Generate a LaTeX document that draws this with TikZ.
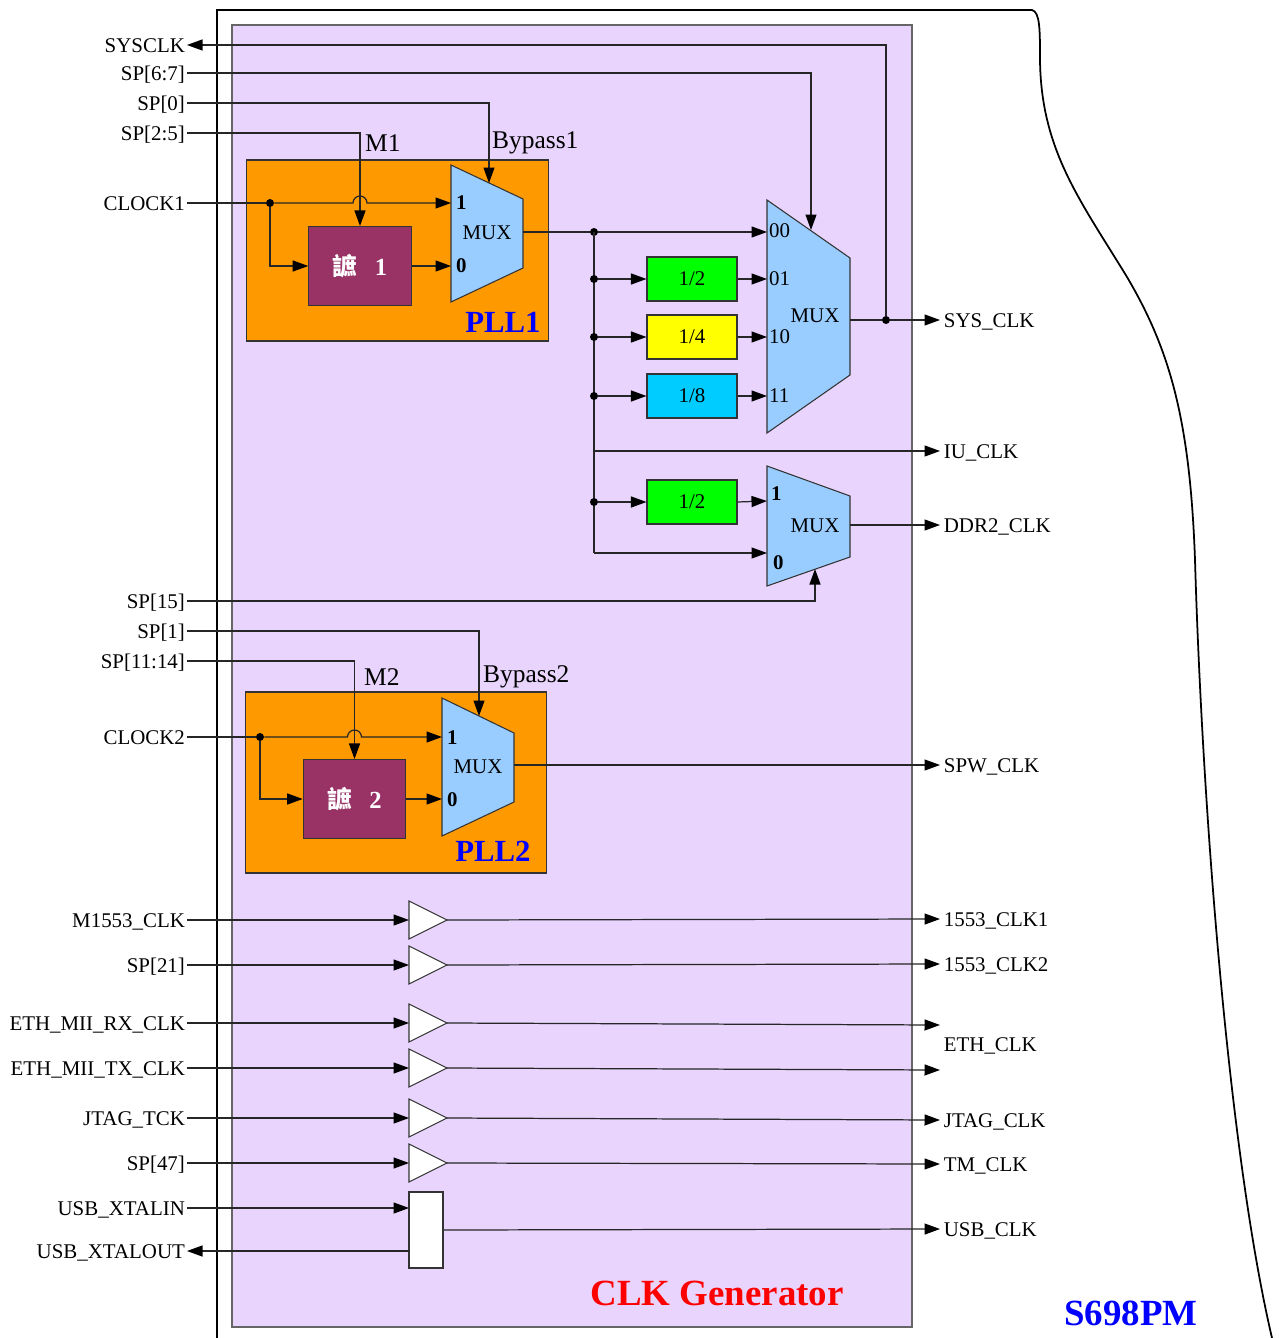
\documentclass[tikz,border=0pt]{standalone}
\usepackage{fontspec}
\setmainfont{Liberation Serif}
\newfontfamily\cjk{Noto Sans CJK TC}
\usetikzlibrary{arrows.meta,positioning}

\definecolor{chipbg}{RGB}{232,212,252}
\definecolor{pllbg}{RGB}{255,153,0}
\definecolor{vcobg}{RGB}{153,51,102}
\definecolor{muxbg}{RGB}{153,204,255}
\definecolor{divgreen}{RGB}{0,255,0}
\definecolor{divyellow}{RGB}{255,255,0}
\definecolor{divcyan}{RGB}{0,204,255}

\begin{document}
\begin{tikzpicture}[x=0.02cm, y=-0.02cm, font={\fontsize{11.9}{13}\selectfont}, >={Triangle[length=3.1mm,width=2.2mm,color=black]}]
	\tikzstyle{wire} = [draw=black!85, line width=0.7pt];
	\tikzstyle{lbl} = [inner sep=1pt, text height=8pt, text depth=0pt];
	\tikzstyle{inlbl} = [lbl, anchor=east];
	\tikzstyle{outlbl} = [lbl, anchor=west, inner sep=2pt];
	\tikzstyle{block} = [draw=black!80, line width=0.6pt, inner sep=0pt];
	\tikzstyle{divbox} = [block, minimum width=1.8cm, minimum height=0.88cm];
	\tikzstyle{vco} = [block, fill=vcobg, text=white, minimum width=2.05cm, minimum height=1.58cm, font={\fontsize{14}{16}\selectfont\bfseries}];
	\tikzstyle{pll} = [block, fill=pllbg, minimum width=6.03cm, minimum height=3.62cm];
	\tikzstyle{mux} = [draw=black!80, fill=muxbg, line width=0.6pt];
	\tikzstyle{buf} = [draw=black!80, fill=white, line width=0.6pt];
	\tikzstyle{joint} = [circle, fill=black, inner sep=0pt, minimum size=1.6mm];
	\tikzstyle{port} = [inner sep=1pt, anchor=west];
	\tikzstyle{bport} = [port, font={\fontsize{11.9}{13}\selectfont\bfseries}];
	\tikzstyle{ctrl} = [inner sep=1pt, anchor=west, font={\fontsize{14.5}{16}\selectfont}];
	\tikzstyle{pllname} = [text=blue, font={\fontsize{17.5}{19}\selectfont\bfseries}];

	% page, chip edge and generator area
	\fill[white] (0,0) rectangle (1278,1338);
	\useasboundingbox (0,0) rectangle (1278,1338);
	\draw[line width=1pt] (217,1338) -- (217,10) -- (1032,10) .. controls (1040,12) and (1040,30) .. (1040,60) .. controls (1041,150) and (1080,200) .. (1127,277) .. controls (1170,350) and (1190,420) .. (1195,560) .. controls (1202,800) and (1228,1150) .. (1272,1338);
	\draw[draw=black!60, fill=chipbg, line width=0.8pt] (232,25) rectangle (912,1327);

	% inputs on the left
	\node[inlbl] (sysclk) at (187,45) {SYSCLK};
	\node[inlbl] (sp67) at (187,73) {SP[6:7]};
	\node[inlbl] (sp0) at (187,103) {SP[0]};
	\node[inlbl] (sp25) at (187,133) {SP[2:5]};
	\node[inlbl] (clock1) at (187,203) {CLOCK1};
	\node[inlbl] (sp15) at (187,601) {SP[15]};
	\node[inlbl] (sp1) at (187,631) {SP[1]};
	\node[inlbl] (sp1114) at (187,661) {SP[11:14]};
	\node[inlbl] (clock2) at (187,737) {CLOCK2};
	\node[inlbl] (bin1) at (187,920) {M1553\_CLK};
	\node[inlbl] (bin2) at (187,965) {SP[21]};
	\node[inlbl] (bin3) at (187,1023) {ETH\_MII\_RX\_CLK};
	\node[inlbl] (bin4) at (187,1068) {ETH\_MII\_TX\_CLK};
	\node[inlbl] (bin5) at (187,1118) {JTAG\_TCK};
	\node[inlbl] (bin6) at (187,1163) {SP[47]};
	\node[inlbl] (usbin) at (187,1208) {USB\_XTALIN};
	\node[inlbl] (usbout) at (187,1251) {USB\_XTALOUT};

	% outputs on the right
	\node[outlbl] (sysout) at (940,320) {SYS\_CLK};
	\node[outlbl] (iuclk) at (940,451) {IU\_CLK};
	\node[outlbl] (ddrout) at (940,525) {DDR2\_CLK};
	\node[outlbl] (spwout) at (940,765) {SPW\_CLK};
	\node[outlbl] (bout1) at (940,919) {1553\_CLK1};
	\node[outlbl] (bout2) at (940,964) {1553\_CLK2};
	\node[outlbl] (ethout) at (940,1044) {ETH\_CLK};
	\node[outlbl] (bout5) at (940,1120) {JTAG\_CLK};
	\node[outlbl] (bout6) at (940,1164) {TM\_CLK};
	\node[outlbl] (usbclk) at (940,1229) {USB\_CLK};
	\coordinate (eth3) at (940,1025);
	\coordinate (eth4) at (940,1070);

	% PLL1
	\node[pll] (pll1) at (397.5,250.5) {};
	\node[vco] (vco1) at (360,266) {{\cjk 謶}\hspace{0.7em}1};
	\draw[mux] (451,165) -- (523,199) -- (523,268) -- (451,302) -- cycle;
	\coordinate (m1in1) at (451,203);
	\coordinate (m1in0) at (451,266);
	\coordinate (m1sel) at (489,183);
	\coordinate (m1out) at (523,232);
	\node (mux1) at (487,233) {MUX};
	\node[bport] (m1p1) at (454,203) {1};
	\node[bport] (m1p0) at (454,266) {0};
	\node[pllname] (pll1name) at (503,322) {PLL1};
	\node[ctrl] (m1lbl) at (363,143) {M1};
	\node[ctrl] (bp1lbl) at (490,143) {Bypass1};

	\node[joint] (c1dot) at (270,203) {};
	\draw[wire] (clock1.east) -- (c1dot);
	\draw[wire, ->] (c1dot) -- (353,203) arc[start angle=180, end angle=0, radius=0.14cm] -- (m1in1);
	\draw[wire, ->] (c1dot) |- (vco1.west);
	\draw[wire, ->] (sp25.east) -| (vco1.north);
	\draw[wire, ->] (sp0.east) -| (m1sel);
	\draw[wire, ->] (vco1.east) -- (m1in0);

	% system clock MUX and dividers
	\draw[mux] (767,200) -- (850,258) -- (850,375) -- (767,433) -- cycle;
	\node (mux2) at (815,316) {MUX};
	\coordinate (m2sel) at (811,230);
	\coordinate (m2out) at (850,320);
	\coordinate (m2in00) at (767,232);
	\node[port] (m2p00) at (767,231) {00};

	\node[joint] (bus0) at (594,232) {};
	\coordinate (busiu) at (594,451);
	\coordinate (busbot) at (594,553);
	\draw[wire] (m1out) -- (bus0);
	\draw[wire, ->] (bus0) -- (m2in00);
	\draw[wire] (bus0.center) -- (busbot);

	\foreach \n/\y/\col/\code in {2/279/divgreen/01, 4/337/divyellow/10, 8/396/divcyan/11} {
		\node[joint] (bus\n) at (594,\y) {};
		\node[divbox, fill=\col] (div\n) at (692,\y) {1/\n};
		\coordinate (m2in\code) at (767,\y);
		\draw[wire, ->] (bus\n) -- (div\n.west);
		\draw[wire, ->] (div\n.east) -- (m2in\code);
		\node[port] (m2p\code) at (767,\y) {\code};
	}

	\node[joint] (sysdot) at (886,320) {};
	\draw[wire] (m2out) -- (sysdot);
	\draw[wire, ->] (sysdot) -- (sysout.west);
	\draw[wire, ->] (sysdot) |- (sysclk.east);
	\draw[wire, ->] (sp67.east) -| (m2sel);
	\draw[wire, ->] (busiu) -- (iuclk.west);

	% DDR2 MUX
	\draw[mux] (767,466) -- (850,496) -- (850,557) -- (767,586) -- cycle;
	\node (mux3) at (815,526) {MUX};
	\coordinate (m3in1) at (767,501);
	\coordinate (m3in0) at (767,553);
	\coordinate (m3sel) at (815,569);
	\coordinate (m3out) at (850,525);
	\node[bport] (m3p1) at (769,494) {1};
	\node[bport] (m3p0) at (771,563) {0};
	\node[joint] (busd) at (594,502) {};
	\node[divbox, fill=divgreen] (divd) at (692,502) {1/2};
	\draw[wire, ->] (busd) -- (divd.west);
	\draw[wire, ->] (divd.east) -- (m3in1);
	\draw[wire, ->] (busbot) -- (m3in0);
	\draw[wire, ->] (m3out) -- (ddrout.west);
	\draw[wire, ->] (sp15.east) -| (m3sel);

	% PLL2
	\node[pll] (pll2) at (396,782.5) {};
	\node[vco] (vco2) at (354.5,799) {{\cjk 謶}\hspace{0.7em}2};
	\draw[mux] (442,698) -- (514,733) -- (514,802) -- (442,836) -- cycle;
	\coordinate (m4in1) at (442,737);
	\coordinate (m4in0) at (442,799);
	\coordinate (m4sel) at (479,716);
	\coordinate (m4out) at (514,765);
	\node (mux4) at (478,767) {MUX};
	\node[bport] (m4p1) at (445,738) {1};
	\node[bport] (m4p0) at (445,800) {0};
	\node[pllname] (pll2name) at (493,851) {PLL2};
	\node[ctrl] (m2lbl) at (362,677) {M2};
	\node[ctrl] (bp2lbl) at (481,677) {Bypass2};

	\node[joint] (c2dot) at (260,737) {};
	\draw[wire] (clock2.east) -- (c2dot);
	\draw[wire, ->] (c2dot) -- (347.5,737) arc[start angle=180, end angle=0, radius=0.14cm] -- (m4in1);
	\draw[wire, ->] (c2dot) |- (vco2.west);
	\draw[wire, ->] (sp1114.east) -| (vco2.north);
	\draw[wire, ->] (sp1.east) -| (m4sel);
	\draw[wire, ->] (vco2.east) -- (m4in0);
	\draw[wire, ->] (m4out) -- (spwout.west);

	% buffered clocks
	\foreach \i/\y/\dest in {1/920/bout1.west, 2/965/bout2.west, 3/1023/eth3, 4/1068/eth4, 5/1118/bout5.west, 6/1163/bout6.west} {
		\draw[buf] (409,\y-19) -- (447,\y) -- (409,\y+19) -- cycle;
		\coordinate (bufin\i) at (409,\y);
		\coordinate (bufout\i) at (447,\y);
		\draw[wire, ->] (bin\i.east) -- (bufin\i);
		\draw[wire, ->] (bufout\i) -- (\dest);
	}

	\node[block, fill=white, minimum width=0.68cm, minimum height=1.52cm] (usb) at (426,1230) {};
	\coordinate (usbxin) at (409,1208);
	\coordinate (usbxout) at (409,1251);
	\draw[wire, ->] (usbin.east) -- (usbxin);
	\draw[wire, ->] (usbxout) -- (usbout.east);
	\draw[wire, ->] (usb.east) -- (usbclk.west);

	% titles
	\node[text=red, font={\fontsize{21}{23}\selectfont\bfseries}] (gentitle) at (717,1293) {CLK Generator};
	\node[text=blue, font={\fontsize{21}{23}\selectfont\bfseries}] (chipname) at (1131,1313) {S698PM};
\end{tikzpicture}
\end{document}
